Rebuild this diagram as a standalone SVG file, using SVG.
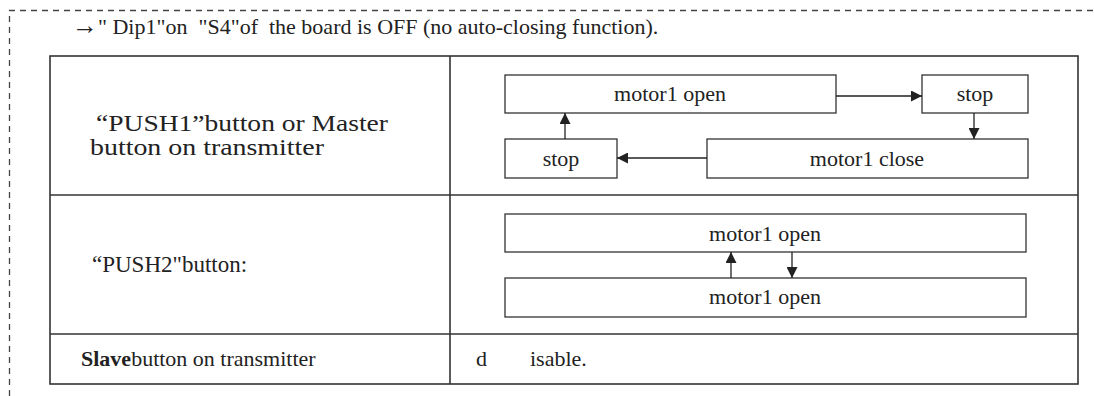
<svg xmlns="http://www.w3.org/2000/svg" width="1094" height="396" viewBox="0 0 1094 396">
  <style>
    .t { font-family: "Liberation Serif", "Times New Roman", serif; font-size: 22px; fill: #222; }
    .big { font-size: 23px; }
    .c { text-anchor: middle; }
    .b { font-weight: bold; }
    .frame { fill: none; stroke: #444; stroke-width: 1.3; stroke-dasharray: 6 5; }
    .grid { fill: none; stroke: #333; stroke-width: 1.6; }
    .box { fill: #fff; stroke: #333; stroke-width: 1.3; }
    .link { fill: none; stroke: #222; stroke-width: 1.3; marker-end: url(#arrow); }
  </style>
  <defs>
    <marker id="arrow" viewBox="0 0 10 10" refX="10" refY="5" markerWidth="11" markerHeight="11" markerUnits="userSpaceOnUse" orient="auto">
      <path d="M0,0 L10,5 L0,10 Z" fill="#222"/>
    </marker>
  </defs>

  <rect width="1094" height="396" fill="#fff"/>

  <!-- dashed outer frame, open to the right and bottom -->
  <path class="frame" d="M9.5,396 V10.5 H1094"/>

  <text class="t" x="72" y="34" xml:space="preserve"><tspan font-size="26">→</tspan>" Dip1"on  "S4"of  the board is OFF (no auto-closing function).</text>

  <!-- table grid -->
  <g id="table">
    <rect class="grid" x="50" y="56" width="1028" height="328"/>
    <line class="grid" x1="450" y1="56" x2="450" y2="384"/>
    <line class="grid" x1="50" y1="195" x2="1078" y2="195"/>
    <line class="grid" x1="50" y1="334" x2="1078" y2="334"/>
  </g>

  <!-- left column labels -->
  <g id="label-push1">
    <text class="t big" x="96" y="131" textLength="292" lengthAdjust="spacingAndGlyphs">“PUSH1”button or Master</text>
    <text class="t big" x="90" y="155" textLength="234" lengthAdjust="spacingAndGlyphs">button on transmitter</text>
  </g>
  <g id="label-push2">
    <text class="t big" x="92" y="272">“PUSH2"button:</text>
  </g>
  <g id="label-slave">
    <text class="t" x="81" y="366" font-size="23"><tspan class="b">Slave</tspan>button on transmitter</text>
  </g>

  <!-- PUSH1 cycle -->
  <g id="p1-open">
    <rect class="box" x="505" y="75" width="331" height="38"/>
    <text class="t c" x="670" y="101">motor1 open</text>
  </g>
  <g id="p1-stop-a">
    <rect class="box" x="922" y="75" width="106" height="38"/>
    <text class="t c" x="975" y="101">stop</text>
  </g>
  <g id="p1-close">
    <rect class="box" x="707" y="139" width="321" height="39"/>
    <text class="t c" x="867" y="166">motor1 close</text>
  </g>
  <g id="p1-stop-b">
    <rect class="box" x="505" y="139" width="112" height="39"/>
    <text class="t c" x="561" y="166">stop</text>
  </g>

  <!-- PUSH2 toggle -->
  <g id="p2-open-a">
    <rect class="box" x="505" y="214" width="521" height="38"/>
    <text class="t c" x="765" y="241">motor1 open</text>
  </g>
  <g id="p2-open-b">
    <rect class="box" x="505" y="278" width="521" height="39"/>
    <text class="t c" x="765" y="304">motor1 open</text>
  </g>

  <!-- Slave row -->
  <g id="slave-value">
    <text class="t" x="476" y="366" font-size="23">d</text>
    <text class="t" x="530" y="366" font-size="23">isable.</text>
  </g>

  <g id="connectors">
    <line class="link" x1="836" y1="96" x2="922" y2="96"/>
    <line class="link" x1="974" y1="113" x2="974" y2="139"/>
    <line class="link" x1="707" y1="158" x2="617" y2="158"/>
    <line class="link" x1="565" y1="139" x2="565" y2="113"/>
    <line class="link" x1="731" y1="278" x2="731" y2="252"/>
    <line class="link" x1="792" y1="252" x2="792" y2="278"/>
  </g>
</svg>
